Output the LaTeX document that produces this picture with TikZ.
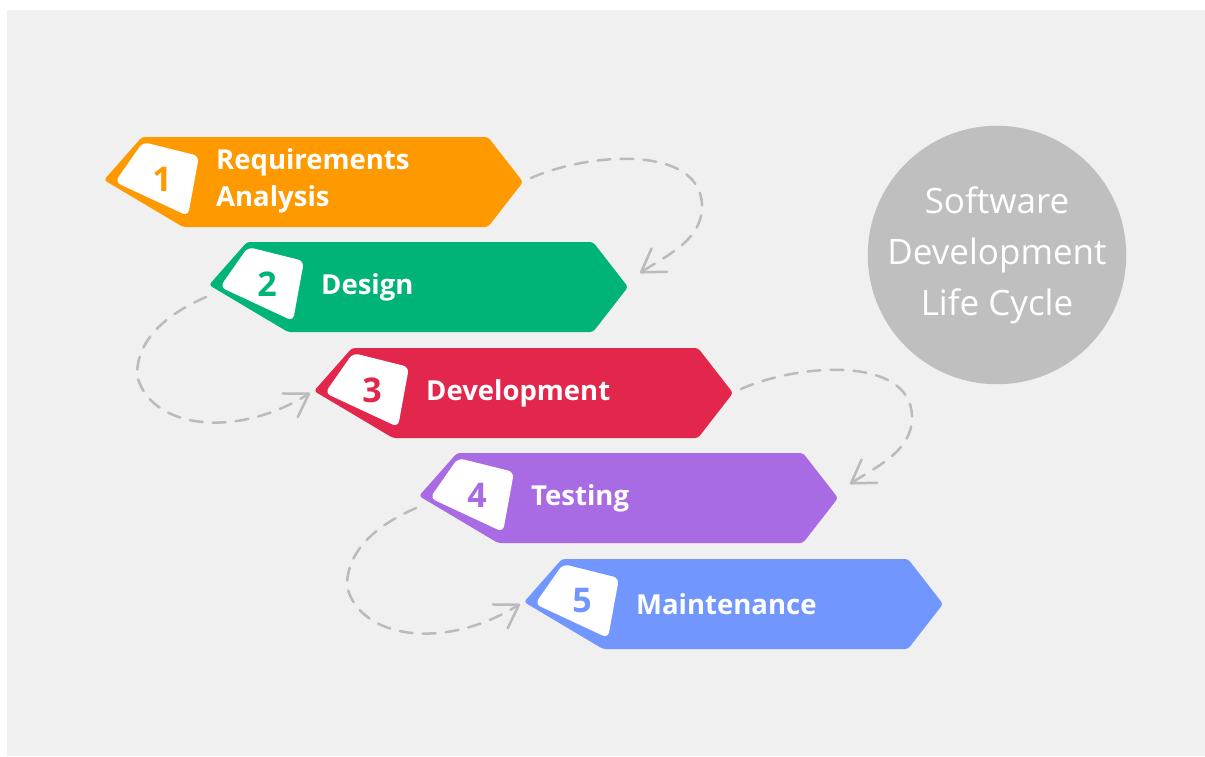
\documentclass[tikz,border=0pt]{standalone}
\usepackage{fontspec}
\setmainfont{Open Sans}
\usetikzlibrary{arrows.meta}

\definecolor{stepOrange}{HTML}{FF9900}
\definecolor{stepGreen}{HTML}{00B377}
\definecolor{stepRed}{HTML}{E3264C}
\definecolor{stepPurple}{HTML}{A96BE3}
\definecolor{stepBlue}{HTML}{7197FF}
\definecolor{cycleGray}{HTML}{BFBFBF}
\definecolor{paper}{HTML}{F0F0F0}
\definecolor{dashGray}{HTML}{BBBBBB}

\tikzset{
  band/.style={rounded corners=3pt},
  badge/.style={fill=white, rounded corners=6pt},
  num/.style={font=\bfseries\fontsize{34}{34}\selectfont, inner sep=0pt},
  steptext/.style={font=\bfseries\fontsize{27.5}{37}\selectfont, text=white, anchor=west, align=left, inner sep=0pt},
  flow/.style={draw=dashGray, line width=2.5pt, line cap=round, dash pattern=on 13pt off 10pt,
    -{Straight Barb[round, length=22pt, width=28pt]}},
}

\begin{document}
\begin{tikzpicture}[x=1pt, y=-1pt]
          \useasboundingbox (0,0) rectangle (1205,756);
          \fill[paper] (7,10) rectangle (1205,756);
          %
          \fill[band, stepOrange] (142,137) -- ++(346,0) -- ++(35,45) -- ++(-35,45) -- ++(-305,0) -- ++(-79,-47) -- cycle;
          \fill[band, stepGreen] (247,242) -- ++(346,0) -- ++(35,45) -- ++(-35,45) -- ++(-305,0) -- ++(-79,-47) -- cycle;
          \fill[band, stepRed] (352,348) -- ++(346,0) -- ++(35,45) -- ++(-35,45) -- ++(-305,0) -- ++(-79,-47) -- cycle;
          \fill[band, stepPurple] (457,453) -- ++(346,0) -- ++(35,45) -- ++(-35,45) -- ++(-305,0) -- ++(-79,-47) -- cycle;
          \fill[band, stepBlue] (562,559) -- ++(346,0) -- ++(35,45) -- ++(-35,45) -- ++(-305,0) -- ++(-79,-47) -- cycle;
          %
          \fill[badge] (143,142) -- ++(56,14) -- ++(-11,60) -- ++(-73,-34) -- cycle;
          \fill[badge] (248,247) -- ++(56,14) -- ++(-11,60) -- ++(-73,-34) -- cycle;
          \fill[badge] (353,353) -- ++(56,14) -- ++(-11,60) -- ++(-73,-34) -- cycle;
          \fill[badge] (458,458) -- ++(56,14) -- ++(-11,60) -- ++(-73,-34) -- cycle;
          \fill[badge] (563,564) -- ++(56,14) -- ++(-11,60) -- ++(-73,-34) -- cycle;
          %
          \coordinate (tip1) at (523,182);
          \coordinate (tip2) at (628,287);
          \coordinate (tip3) at (733,393);
          \coordinate (tip4) at (838,498);
          \coordinate (left2) at (209,285);
          \coordinate (left3) at (314,391);
          \coordinate (left4) at (419,496);
          \coordinate (left5) at (524,602);
          %
          \node[num, text=stepOrange] (n1) at (162,179) {1};
          \node[num, text=stepGreen] (n2) at (267,284) {2};
          \node[num, text=stepRed] (n3) at (372,390) {3};
          \node[num, text=stepPurple] (n4) at (477,495) {4};
          \node[num, text=stepBlue] (n5) at (582,601) {5};
          %
          \node[steptext] (req) at (216,181) {Requirements\\Analysis};
          \node[steptext] (design) at (321,287) {Design};
          \node[steptext] (dev) at (426,393) {Development};
          \node[steptext] (test) at (531,498) {Testing};
          \node[steptext] (maint) at (636,604) {Maintenance};
          %
          \node[circle, fill=cycleGray, minimum size=258pt, inner sep=0pt, text=white, align=center,
                font=\fontsize{35}{51}\selectfont] (sdlc) at (997,255) {Software\\Development\\Life Cycle};
          %
          \draw[flow] ([shift={(8,-4)}]tip1) .. controls +(59,-26) and +(-2,-60) .. ([shift={(179,23)}]tip1)
                .. controls +(1,35) and +(27,-18) .. ([shift={(12,-14)}]tip2);
          \draw[flow] ([shift={(-3,12)}]left2) .. controls +(-41,18) and +(0,-35) .. ([shift={(-72,90)}]left2)
                .. controls +(12,53) and +(-75,47) .. ([shift={(-4,2)}]left3);
          \draw[flow] ([shift={(8,-4)}]tip3) .. controls +(59,-26) and +(-2,-60) .. ([shift={(179,23)}]tip3)
                .. controls +(1,35) and +(27,-18) .. ([shift={(12,-14)}]tip4);
          \draw[flow] ([shift={(-3,12)}]left4) .. controls +(-41,18) and +(0,-35) .. ([shift={(-72,90)}]left4)
                .. controls +(12,53) and +(-75,47) .. ([shift={(-4,2)}]left5);
        \end{tikzpicture}
\end{document}
